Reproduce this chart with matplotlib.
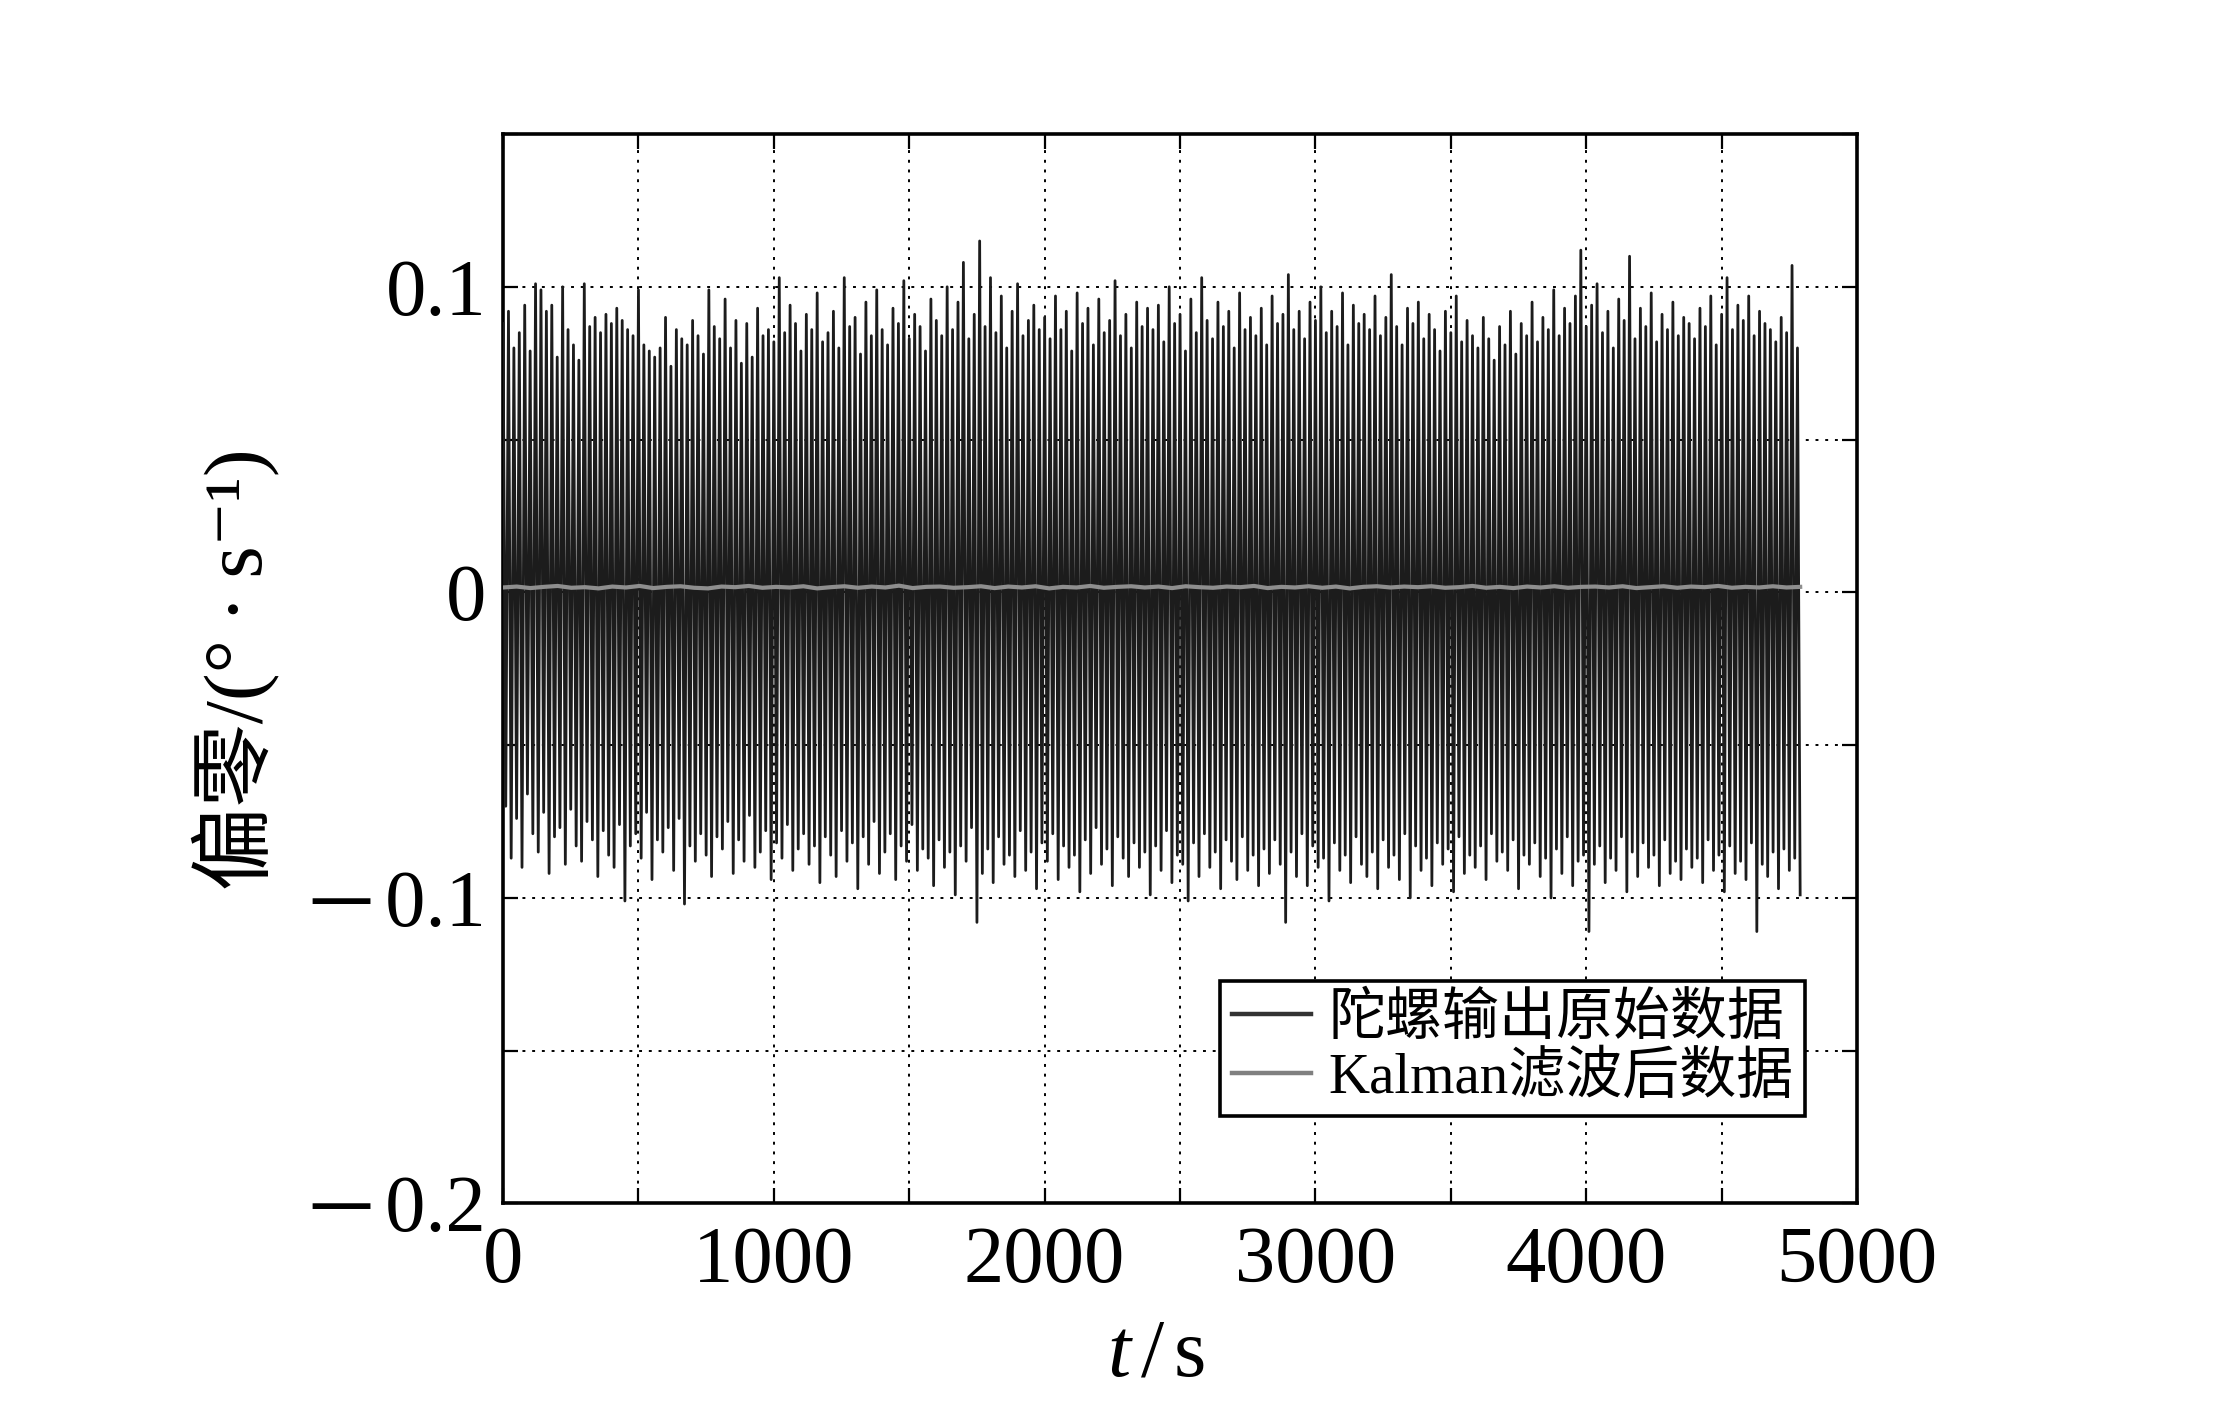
import numpy as np
import matplotlib
matplotlib.use("Agg")
import matplotlib.pyplot as plt
from matplotlib.ticker import FixedLocator, FixedFormatter

# ---------------- data ----------------
dt_raw = 10.0  # s between raw samples

raw_peaks = [
    0.088, 0.092, 0.080, 0.085, 0.094, 0.079, 0.101, 0.099, 0.092, 0.094, 0.077, 0.100, 0.086, 0.081, 0.076, 0.101, 0.087, 0.090, 0.085, 0.091,
    0.088, 0.093, 0.089, 0.086, 0.084, 0.099, 0.081, 0.079, 0.077, 0.080, 0.090, 0.074, 0.086, 0.083, 0.081, 0.089, 0.084, 0.078, 0.099, 0.087,
    0.083, 0.096, 0.080, 0.089, 0.075, 0.088, 0.077, 0.093, 0.084, 0.086, 0.082, 0.103, 0.085, 0.094, 0.088, 0.079, 0.091, 0.086, 0.098, 0.082,
    0.085, 0.092, 0.080, 0.103, 0.087, 0.090, 0.078, 0.095, 0.084, 0.099, 0.086, 0.081, 0.093, 0.088, 0.102, 0.083, 0.091, 0.087, 0.079, 0.096,
    0.089, 0.084, 0.100, 0.086, 0.095, 0.108, 0.083, 0.091, 0.115, 0.087, 0.103, 0.085, 0.097, 0.080, 0.092, 0.101, 0.084, 0.089, 0.094, 0.086,
    0.090, 0.083, 0.097, 0.086, 0.092, 0.079, 0.098, 0.088, 0.093, 0.081, 0.096, 0.085, 0.089, 0.102, 0.084, 0.091, 0.080, 0.095, 0.087, 0.093,
    0.086, 0.094, 0.082, 0.100, 0.088, 0.091, 0.079, 0.096, 0.085, 0.103, 0.089, 0.083, 0.095, 0.087, 0.092, 0.080, 0.098, 0.086, 0.090, 0.084,
    0.093, 0.081, 0.097, 0.088, 0.091, 0.104, 0.086, 0.092, 0.083, 0.095, 0.089, 0.100, 0.085, 0.092, 0.087, 0.098, 0.081, 0.094, 0.088, 0.091,
    0.086, 0.097, 0.084, 0.090, 0.104, 0.087, 0.081, 0.093, 0.088, 0.095, 0.083, 0.091, 0.086, 0.079, 0.092, 0.085, 0.097, 0.082, 0.089, 0.084,
    0.080, 0.090, 0.083, 0.076, 0.087, 0.081, 0.092, 0.078, 0.088, 0.084, 0.095, 0.082, 0.090, 0.086, 0.099, 0.084, 0.093, 0.088, 0.097, 0.112,
    0.087, 0.094, 0.101, 0.085, 0.092, 0.080, 0.096, 0.089, 0.110, 0.083, 0.093, 0.087, 0.098, 0.082, 0.091, 0.086, 0.095, 0.084, 0.090, 0.088,
    0.083, 0.093, 0.087, 0.097, 0.081, 0.091, 0.103, 0.086, 0.094, 0.089, 0.097, 0.084, 0.092, 0.088, 0.086, 0.082, 0.090, 0.085, 0.107, 0.080,
]

raw_troughs = [
    -0.070, -0.087, -0.074, -0.090, -0.066, -0.079, -0.085, -0.072, -0.092, -0.080, -0.077, -0.089, -0.071, -0.083, -0.088, -0.075, -0.081, -0.093, -0.078, -0.086,
    -0.090, -0.076, -0.101, -0.083, -0.079, -0.087, -0.072, -0.094, -0.081, -0.085, -0.077, -0.091, -0.074, -0.102, -0.083, -0.088, -0.079, -0.086, -0.093, -0.080,
    -0.084, -0.075, -0.092, -0.081, -0.088, -0.073, -0.090, -0.085, -0.078, -0.094, -0.082, -0.087, -0.076, -0.091, -0.084, -0.079, -0.089, -0.083, -0.095, -0.080,
    -0.086, -0.093, -0.078, -0.088, -0.082, -0.097, -0.080, -0.089, -0.075, -0.092, -0.085, -0.079, -0.094, -0.083, -0.088, -0.076, -0.091, -0.084, -0.087, -0.096,
    -0.081, -0.090, -0.085, -0.099, -0.083, -0.088, -0.077, -0.108, -0.092, -0.084, -0.095, -0.080, -0.089, -0.086, -0.093, -0.078, -0.091, -0.085, -0.097, -0.082,
    -0.088, -0.079, -0.094, -0.083, -0.090, -0.086, -0.098, -0.081, -0.092, -0.077, -0.089, -0.084, -0.096, -0.080, -0.087, -0.093, -0.082, -0.090, -0.085, -0.099,
    -0.083, -0.091, -0.078, -0.095, -0.086, -0.089, -0.101, -0.082, -0.093, -0.079, -0.090, -0.085, -0.097, -0.081, -0.088, -0.094, -0.080, -0.091, -0.086, -0.096,
    -0.084, -0.092, -0.081, -0.089, -0.108, -0.085, -0.093, -0.079, -0.096, -0.083, -0.090, -0.087, -0.101, -0.082, -0.091, -0.086, -0.095, -0.080, -0.089, -0.093,
    -0.085, -0.097, -0.081, -0.090, -0.086, -0.094, -0.079, -0.100, -0.083, -0.091, -0.087, -0.096, -0.082, -0.089, -0.084, -0.098, -0.080, -0.092, -0.086, -0.090,
    -0.083, -0.094, -0.079, -0.088, -0.085, -0.091, -0.081, -0.097, -0.086, -0.089, -0.082, -0.093, -0.087, -0.100, -0.084, -0.092, -0.080, -0.096, -0.088, -0.086,
    -0.111, -0.089, -0.083, -0.095, -0.087, -0.091, -0.080, -0.098, -0.085, -0.093, -0.082, -0.090, -0.086, -0.096, -0.081, -0.092, -0.088, -0.094, -0.084, -0.090,
    -0.087, -0.095, -0.081, -0.091, -0.086, -0.098, -0.083, -0.092, -0.088, -0.094, -0.082, -0.111, -0.089, -0.093, -0.085, -0.097, -0.084, -0.091, -0.087, -0.099,
]

dt_kalman = 50.0
kalman_vals = [
    0.0016, 0.0019, 0.0014, 0.0018, 0.0021, 0.0015, 0.0017, 0.0013, 0.0019, 0.0016, 0.0021, 0.0014,
    0.0018, 0.0020, 0.0015, 0.0013, 0.0019, 0.0017, 0.0021, 0.0015, 0.0018, 0.0016, 0.0020, 0.0013,
    0.0017, 0.0020, 0.0015, 0.0019, 0.0016, 0.0022, 0.0014, 0.0018, 0.0019, 0.0015, 0.0017, 0.0020,
    0.0014, 0.0019, 0.0016, 0.0020, 0.0013, 0.0018, 0.0016, 0.0021, 0.0015, 0.0018, 0.0020, 0.0016,
    0.0019, 0.0014, 0.0020, 0.0017, 0.0015, 0.0019, 0.0017, 0.0021, 0.0014, 0.0018, 0.0016, 0.0020,
    0.0015, 0.0019, 0.0013, 0.0018, 0.0020, 0.0016, 0.0019, 0.0017, 0.0020, 0.0015, 0.0017, 0.0021,
    0.0015, 0.0018, 0.0014, 0.0019, 0.0016, 0.0020, 0.0015, 0.0018, 0.0019, 0.0016, 0.0020, 0.0014,
    0.0017, 0.0020, 0.0015, 0.0019, 0.0017, 0.0021, 0.0015, 0.0018, 0.0016, 0.0020, 0.0016, 0.0018,
]

xtick_vals = [0, 1000, 2000, 3000, 4000, 5000]
ytick_vals = [-0.2, -0.15, -0.1, -0.05, 0.0, 0.05, 0.1, 0.15]
ytick_labels = ["\u2500\u20090.2", "", "\u2500\u20090.1", "", "0", "", "0.1", ""]

legend_labels = ["陀螺输出原始数据", "Kalman滤波后数据"]
xlabel = r"$t\,/\,\mathrm{s}$"
ylabel = "偏零/(°\u2009·\u2009s⁻¹)"

# ---------------- build series ----------------
raw = np.empty(len(raw_peaks) + len(raw_troughs))
raw[0::2] = raw_peaks
raw[1::2] = raw_troughs
t_raw = np.arange(len(raw)) * dt_raw
kal = np.array(kalman_vals)
t_kal = np.arange(len(kal)) * dt_kalman
t_kal = t_kal * (t_raw[-1] / t_kal[-1])

# ---------------- style ----------------
plt.rcParams["font.family"] = ["Liberation Serif", "Noto Sans CJK SC", "DejaVu Sans"]
plt.rcParams["mathtext.fontset"] = "custom"
plt.rcParams["mathtext.rm"] = "Liberation Serif"
plt.rcParams["mathtext.it"] = "Liberation Serif:italic"

fig = plt.figure(figsize=(22.2, 14.02), dpi=100)
ax = fig.add_axes([0.2266, 0.1416, 0.8365 - 0.2266, 0.9044 - 0.1416])

ax.plot(t_raw, raw, color="#1c1c1c", lw=2.0, label=legend_labels[0], zorder=3)
ax.plot(t_kal, kal, color="#8e8e8e", lw=3.0, label=legend_labels[1], zorder=4)

ax.set_xlim(0, 5000)
ax.set_ylim(-0.2, 0.15)

xt = np.arange(0, 5001, 500)
ax.set_xticks(xt)
ax.set_xticklabels([str(int(v)) if v in xtick_vals else "" for v in xt])
ax.yaxis.set_major_locator(FixedLocator(ytick_vals))
ax.yaxis.set_major_formatter(FixedFormatter(ytick_labels))

ax.tick_params(axis="both", which="major", direction="in", length=11, width=1.6,
               top=True, right=True, labelsize=58, color="black")
ax.tick_params(axis="x", pad=16)
ax.tick_params(axis="y", pad=12)
for lab in ax.get_yticklabels():
    lab.set_family(["Liberation Serif", "DejaVu Sans"])

ax.grid(True, color="black", linestyle=(0, (1.5, 3.5)), linewidth=1.4)
ax.set_axisbelow(True)

for sp in ax.spines.values():
    sp.set_linewidth(2.6)
    sp.set_color("black")

ax.set_xlabel(xlabel, fontsize=60, labelpad=14)
ax.xaxis.label.set_x(0.482)
ax.set_ylabel(ylabel, fontsize=60, labelpad=24)

leg = ax.legend(loc="lower right", bbox_to_anchor=(0.9616, 0.0814), borderaxespad=0,
                fontsize=41, frameon=True, fancybox=False, handlelength=1.4,
                handletextpad=0.3, labelspacing=0.1, borderpad=0.2)
leg.get_frame().set_edgecolor("black")
leg.get_frame().set_linewidth(2.6)
leg.get_frame().set_alpha(1.0)
leg.get_lines()[0].set_color("#333333")
leg.get_lines()[1].set_color("#808080")
for line in leg.get_lines():
    line.set_linewidth(3.2)

fig.savefig("out.png", dpi=100, facecolor="white")
